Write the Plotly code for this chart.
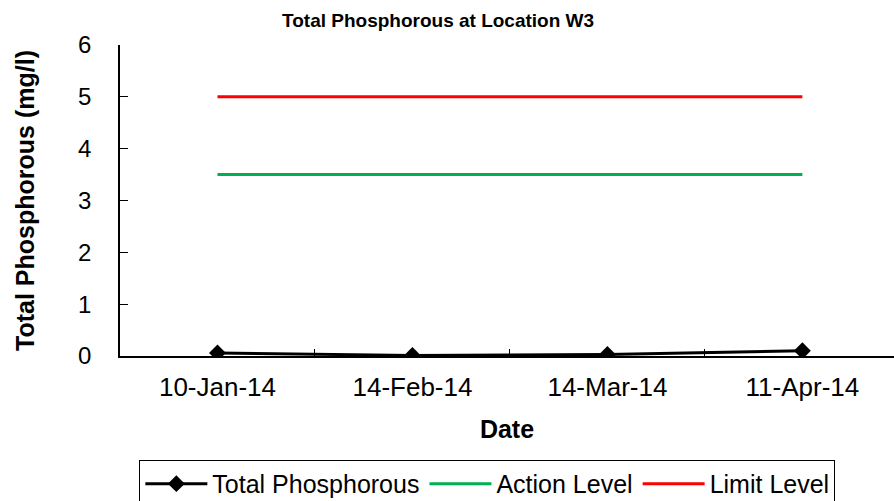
import plotly.graph_objects as go

dates = ['10-Jan-14', '14-Feb-14', '14-Mar-14', '11-Apr-14']
phosphorous = [0.06, 0.01, 0.03, 0.1]
action_level = [3.5, 3.5, 3.5, 3.5]
limit_level = [5, 5, 5, 5]

font = 'Liberation Sans, Arial, sans-serif'

fig = go.Figure()
fig.add_trace(go.Scatter(x=dates, y=phosphorous, mode='lines+markers', name='Total Phosphorous',
                         line=dict(color='black', width=3),
                         marker=dict(symbol='diamond', size=13, color='black')))
fig.add_trace(go.Scatter(x=dates, y=action_level, mode='lines', name='Action Level',
                         line=dict(color='#00B050', width=3)))
fig.add_trace(go.Scatter(x=dates, y=limit_level, mode='lines', name='Limit Level',
                         line=dict(color='#FF0000', width=3)))

fig.update_layout(
    width=894, height=501,
    margin=dict(l=120, r=0, t=45, b=145),
    paper_bgcolor='white', plot_bgcolor='white',
    font=dict(family=font, size=25, color='black'),
    title=dict(text='<b>Total Phosphorous at Location W3</b>', x=0.49, xanchor='center',
               y=0.96, yanchor='middle', font=dict(size=19)),
    xaxis=dict(title=dict(text='<b>Date</b>', font=dict(size=25), standoff=20),
               range=[-0.5, 3.47], showline=True, linecolor='black', linewidth=1.5,
               showgrid=False, ticks='inside', ticklen=7, tickcolor='black',
               tickson='boundaries', tickfont=dict(size=26), ticklabelstandoff=7,
               automargin=False),
    yaxis=dict(title=dict(text='<b>Total Phosphorous (mg/l)</b>', font=dict(size=25), standoff=36),
               range=[0, 6], dtick=1, showline=True, linecolor='black', linewidth=1.5,
               showgrid=False, zeroline=False, ticks='inside', ticklen=8, tickcolor='black',
               tickfont=dict(size=24), ticklabelstandoff=22, automargin=False),
    legend=dict(orientation='h', x=0.025, xanchor='left', yref='container', y=0.082, yanchor='top',
                bordercolor='black', borderwidth=1, font=dict(size=25),
                itemwidth=62),
    showlegend=True,
)

# the page's default body margin would offset the figure by 8px
fig.write_html('out.html', config={'displayModeBar': False},
               post_script="document.body.style.margin='0';")
